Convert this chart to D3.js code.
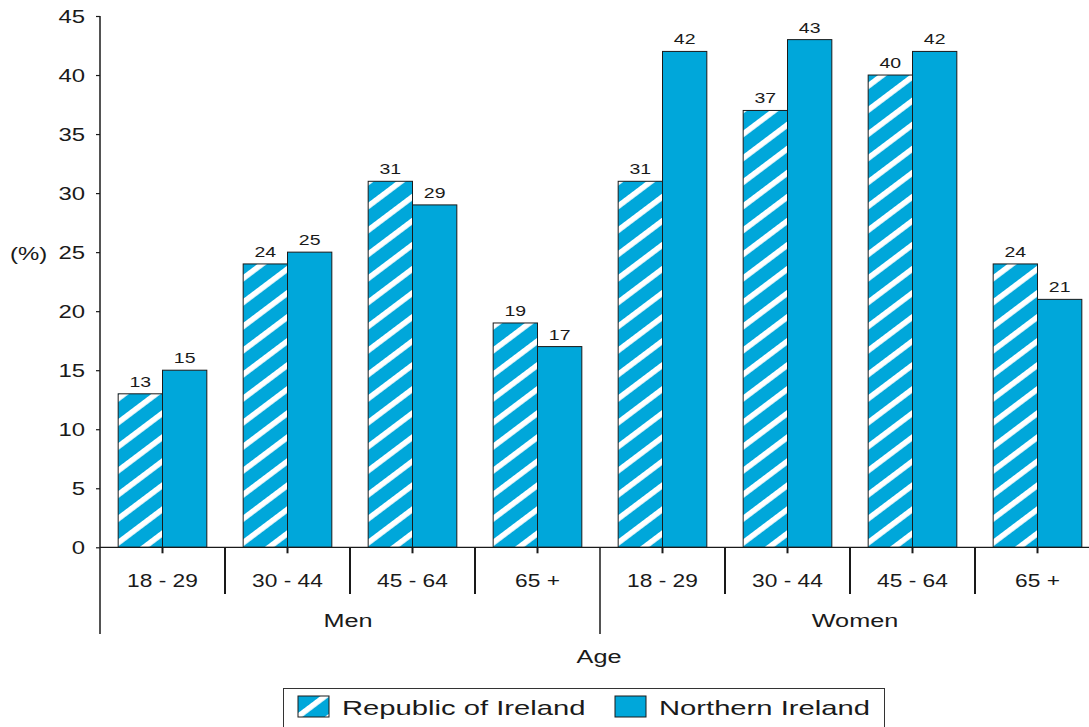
<!DOCTYPE html>
<html>
<head>
<meta charset="utf-8">
<script src="https://cdn.jsdelivr.net/npm/d3@7/dist/d3.min.js"></script>
<style>
  html, body { margin: 0; padding: 0; background: #fff; }
  svg { display: block; font-family: "Liberation Sans", Arial, Helvetica, sans-serif; }
</style>
</head>
<body>
<svg id="chart" width="1089" height="727"></svg>
<script>
// Age bands within each sex, and the two series plotted side by side
const ageBands = ["18 - 29", "30 - 44", "45 - 64", "65 +"];
const sexes = ["Men", "Women"];
const seriesNames = ["Republic of Ireland", "Northern Ireland"];
const roiValues = [13, 24, 31, 19, 31, 37, 40, 24];
const niValues = [15, 25, 29, 17, 42, 43, 42, 21];
const yTicks = [0, 5, 10, 15, 20, 25, 30, 35, 40, 45];

const BLUE = "#00a7da";
const INK = "#1a1a1a";

// one row per bar group: sex x age band
const groups = [];
sexes.forEach((s, si) => ageBands.forEach((a, ai) => {
  const i = si * ageBands.length + ai;
  groups.push({ key: i, sex: s, age: a, values: [roiValues[i], niValues[i]] });
}));

const svg = d3.select("#chart");

// hatched fill for the Republic of Ireland series
const defs = svg.append("defs");
const pat = defs.append("pattern")
  .attr("id", "hatch")
  .attr("patternUnits", "userSpaceOnUse")
  .attr("width", 20).attr("height", 19.2)
  .attr("patternTransform", "rotate(-37)");
pat.append("rect").attr("width", 20).attr("height", 19.2).attr("fill", BLUE);
pat.append("rect").attr("width", 20).attr("height", 5.6).attr("fill", "#fff");
const fills = ["url(#hatch)", BLUE];

// text is drawn slightly wide, as in the printed figure
function placeText(sel, x, y, sx) {
  return sel.attr("x", 0).attr("y", 0)
    .attr("transform", (d, i) => `translate(${typeof x === "function" ? x(d, i) : x},${typeof y === "function" ? y(d, i) : y}) scale(${sx},1)`);
}

const x0 = d3.scaleBand().domain(groups.map(g => g.key)).range([100, 1100]).padding(0);
const x1 = d3.scaleBand().domain([0, 1]).range([0, x0.bandwidth()]).paddingInner(0).paddingOuter(0.41);
const y = d3.scaleLinear().domain([0, 45]).range([547.3, 16]);
const base = y(0);

// bars
const g = svg.append("g");
const grp = g.selectAll("g.grp").data(groups).join("g")
  .attr("class", "grp")
  .attr("transform", d => `translate(${x0(d.key)},0)`);
grp.selectAll("rect").data(d => d.values.map((v, i) => ({ v, i }))).join("rect")
  .attr("x", d => x1(d.i))
  .attr("y", d => y(d.v))
  .attr("width", x1.bandwidth())
  .attr("height", d => base - y(d.v))
  .attr("fill", d => fills[d.i])
  .attr("stroke", INK).attr("stroke-width", 1);

// value labels
grp.selectAll("text").data(d => d.values.map((v, i) => ({ v, i }))).join("text")
  .attr("text-anchor", "middle")
  .attr("font-size", 15)
  .attr("fill", INK)
  .text(d => d3.format("d")(d.v))
  .call(placeText, d => x1(d.i) + x1.bandwidth() / 2, d => y(d.v) - 7, 1.3);

// y axis
const yAxis = svg.append("g")
  .attr("transform", "translate(100,0)")
  .call(d3.axisLeft(y).tickValues(yTicks).tickSize(4).tickFormat(d3.format("d")));
yAxis.select(".domain").attr("stroke", INK).attr("stroke-width", 1.5)
  .attr("d", `M0,${y(45)}V${base}`);
yAxis.selectAll(".tick line").attr("stroke", INK).attr("stroke-width", 1.2);
yAxis.selectAll(".tick text")
  .attr("font-size", 18).attr("font-family", null).attr("fill", INK)
  .attr("dy", null)
  .attr("x", 0).attr("y", 0)
  .attr("transform", "translate(-15,6.5) scale(1.33,1)");

svg.append("text")
  .attr("font-size", 18).attr("fill", INK)
  .text("(%)")
  .call(placeText, 10, 260, 1.33);

// x baseline and category frame
const axisG = svg.append("g").attr("stroke", INK);
axisG.append("line")
  .attr("x1", 100).attr("x2", 1100).attr("y1", base).attr("y2", base)
  .attr("stroke-width", 1.2);
// short ticks at the centre of each pair
axisG.selectAll("line.mid").data(groups).join("line").attr("class", "mid")
  .attr("x1", d => x0(d.key) + x0.bandwidth() / 2).attr("x2", d => x0(d.key) + x0.bandwidth() / 2)
  .attr("y1", base).attr("y2", base + 6).attr("stroke-width", 2);
// separators between age bands
const inner = groups.filter(d => d.key % ageBands.length !== 0);
axisG.selectAll("line.sep").data(inner).join("line").attr("class", "sep")
  .attr("x1", d => x0(d.key)).attr("x2", d => x0(d.key))
  .attr("y1", base).attr("y2", 594).attr("stroke-width", 2);
// separators between sexes
const outer = d3.range(sexes.length + 1).map(i => x0.range()[0] + i * ageBands.length * x0.step());
axisG.selectAll("line.outer").data(outer).join("line").attr("class", "outer")
  .attr("x1", d => d).attr("x2", d => d)
  .attr("y1", base).attr("y2", 634).attr("stroke-width", 1.5);

// age band labels
svg.append("g").selectAll("text").data(groups).join("text")
  .attr("text-anchor", "middle").attr("font-size", 17.5).attr("fill", INK)
  .text(d => d.age)
  .call(placeText, d => x0(d.key) + x0.bandwidth() / 2, 587, 1.3);

// sex labels
svg.append("g").selectAll("text").data(sexes).join("text")
  .attr("text-anchor", "middle").attr("font-size", 19).attr("fill", INK)
  .text(d => d)
  .call(placeText, (d, i) => (outer[i] + outer[i + 1]) / 2 + (i === 1 ? 5 : -2), 627, 1.33);

svg.append("text")
  .attr("text-anchor", "middle").attr("font-size", 19).attr("fill", INK)
  .text("Age")
  .call(placeText, 599, 663, 1.33);

// legend
const leg = svg.append("g");
leg.append("rect")
  .attr("x", 283.5).attr("y", 688.5).attr("width", 601).attr("height", 60)
  .attr("fill", "#fff").attr("stroke", "#333").attr("stroke-width", 1);
const legX = [298, 615];
const item = leg.selectAll("g.item").data(seriesNames).join("g").attr("class", "item");
item.append("rect")
  .attr("x", (d, i) => legX[i]).attr("y", 696)
  .attr("width", 31).attr("height", 21)
  .attr("fill", (d, i) => fills[i])
  .attr("stroke", INK).attr("stroke-width", 1);
item.append("text")
  .attr("font-size", 20).attr("fill", INK)
  .text(d => d)
  .call(placeText, (d, i) => legX[i] + 44, 715, 1.46);
</script>
</body>
</html>
